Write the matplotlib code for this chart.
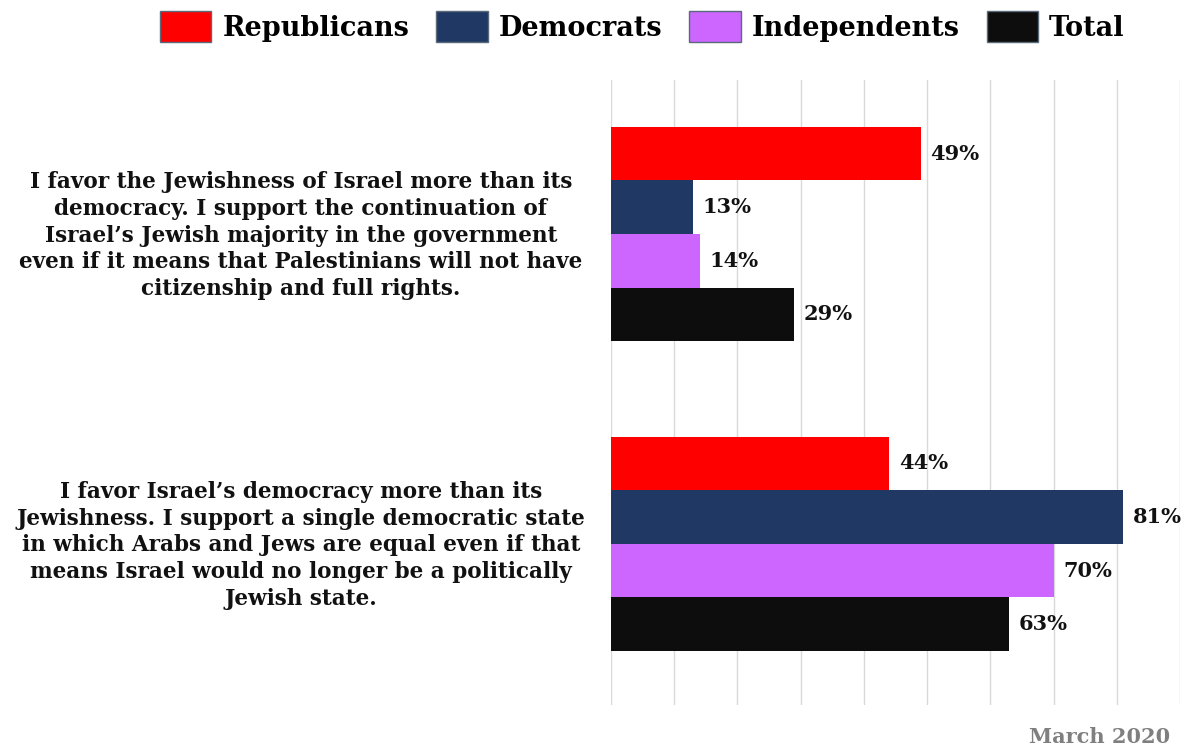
import matplotlib.pyplot as plt
from matplotlib.patches import Patch
import numpy as np

# データ
statements = [
    "I favor the Jewishness of Israel more than its\ndemocracy. I support the continuation of\nIsrael\u2019s Jewish majority in the government\neven if it means that Palestinians will not have\ncitizenship and full rights.",
    "I favor Israel\u2019s democracy more than its\nJewishness. I support a single democratic state\nin which Arabs and Jews are equal even if that\nmeans Israel would no longer be a politically\nJewish state.",
]
groups = ["Republicans", "Democrats", "Independents", "Total"]
republicans = [49, 44]
democrats = [13, 81]
independents = [14, 70]
total = [29, 63]
colors = ["#FF0000", "#1F3864", "#CC66FF", "#0D0D0D"]

plt.rcParams['font.family'] = ['DejaVu Serif']
plt.rcParams['font.weight'] = 'bold'

fig = plt.figure(figsize=(11.87, 7.48), dpi=100)
ax = fig.add_axes([611 / 1187, 43 / 748, 569 / 1187, 625 / 748])

y = np.arange(len(statements))
h = 0.173
series = [republicans, democrats, independents, total]
for i, (vals, c) in enumerate(zip(series, colors)):
    pos = y + (i - 1.5) * h
    ax.barh(pos, vals, height=h, color=c, zorder=3)
    for p, v in zip(pos, vals):
        ax.text(v + 1.5, p, f"{v}%", va="center", ha="left", fontsize=15, fontweight="bold", color="#111111")

ax.set_xlim(0, 90)
ax.set_ylim(1.52, -0.497)
ax.set_xticks(np.arange(0, 91, 10))
ax.xaxis.grid(True, color="#D9D9D9", linewidth=1)
ax.set_axisbelow(True)
ax.tick_params(left=False, bottom=False, labelbottom=False)
ax.set_yticks(y)
ax.set_yticklabels([])
for s in ax.spines.values():
    s.set_visible(False)

# 設問ラベル
for yy, txt in zip(y, statements):
    ax.text(-0.545, yy + 0.005, txt, transform=ax.get_yaxis_transform(), ha="center", va="center",
            fontsize=15.5, fontweight="bold", color="#111111", linespacing=1.27)

handles = [Patch(facecolor=c, edgecolor="#5a6a7a", label=g) for g, c in zip(groups, colors)]
fig.legend(handles=handles, loc="upper center", bbox_to_anchor=(0.541, 1.018), ncol=4, frameon=False,
           fontsize=19.5, handlelength=1.9, handleheight=1.4, columnspacing=1.0, handletextpad=0.4)

fig.text(0.986, 0.002, "March 2020", ha="right", va="bottom", fontsize=15, fontweight="bold", color="#7F7F7F")

plt.savefig("out.png", dpi=100)
